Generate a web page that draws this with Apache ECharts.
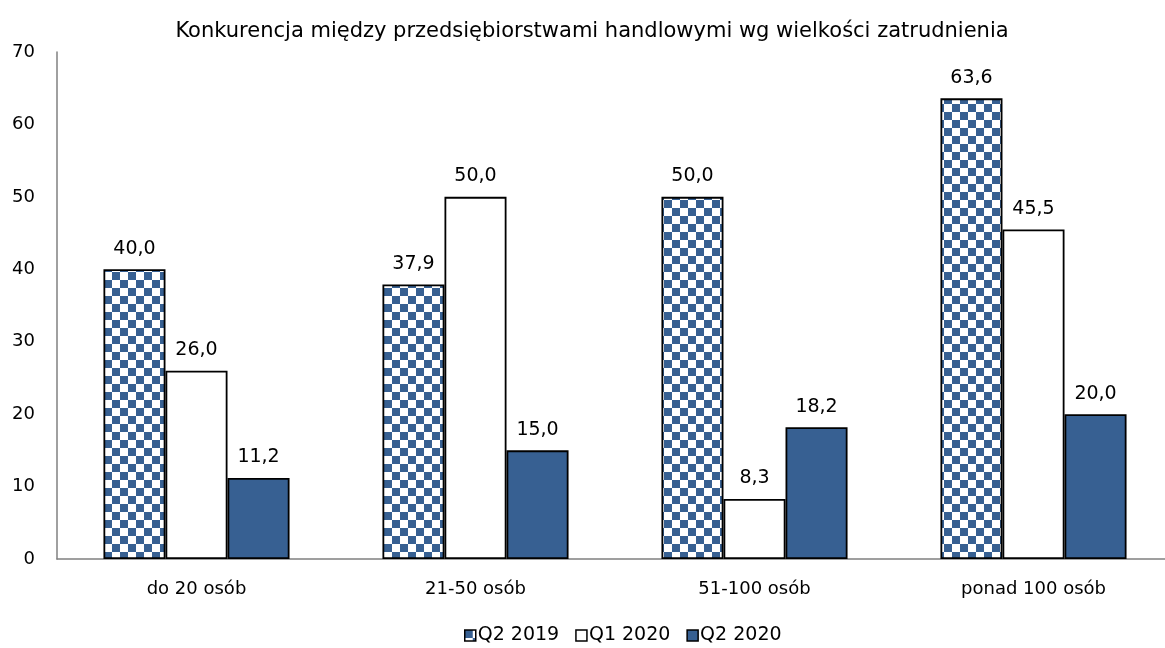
<!DOCTYPE html>
<html>
<head>
<meta charset="utf-8">
<script src="https://cdn.jsdelivr.net/npm/echarts@6/dist/echarts.min.js"></script>
<style>
html,body{margin:0;padding:0;background:#fff;}
#chart{width:1165px;height:648px;}
</style>
</head>
<body>
<div id="chart"></div>
<script>
var categories = ['do 20 osób', '21-50 osób', '51-100 osób', 'ponad 100 osób'];
var seriesNames = ['Q2 2019', 'Q1 2020', 'Q2 2020'];
var q2_2019 = [40.0, 37.9, 50.0, 63.6];
var q1_2020 = [26.0, 50.0, 8.3, 45.5];
var q2_2020 = [11.2, 15.0, 18.2, 20.0];

var blue = '#376092';
var font = 'Tahoma, "DejaVu Sans", sans-serif';

// szachownica dla Q2 2019
function makeChecker(cell) {
    var c = document.createElement('canvas');
    c.width = cell * 2;
    c.height = cell * 2;
    var ctx = c.getContext('2d');
    ctx.fillStyle = '#fff';
    ctx.fillRect(0, 0, c.width, c.height);
    ctx.fillStyle = blue;
    ctx.fillRect(0, 0, cell, cell);
    ctx.fillRect(cell, cell, cell, cell);
    return c;
}
var checker = {image: makeChecker(8), repeat: 'repeat'};

function fmt(p) {
    return p.value.toFixed(1).replace('.', ',');
}

var labelOpt = {show: true, position: 'top', distance: 11, formatter: fmt, fontFamily: font, fontSize: 19, color: '#000'};

var myChart = echarts.init(document.getElementById('chart'));
var option = {
    animation: false,
    title: {
        text: 'Konkurencja między przedsiębiorstwami handlowymi wg wielkości zatrudnienia',
        left: 587,
        textAlign: 'center',
        top: 16,
        textStyle: {fontFamily: font, fontSize: 21, fontWeight: 'normal', color: '#000'}
    },
    legend: {
        bottom: -2,
        left: 459,
        icon: 'rect',
        itemWidth: 11,
        itemHeight: 11,
        itemGap: 16,
        textStyle: {fontFamily: font, fontSize: 19, color: '#000', padding: [0, 0, 0, -3]},
        data: [
            {name: seriesNames[0], itemStyle: {color: checker, borderColor: '#000', borderWidth: 1.5}},
            {name: seriesNames[1], itemStyle: {color: '#fff', borderColor: '#000', borderWidth: 1.5}},
            {name: seriesNames[2], itemStyle: {color: blue, borderColor: '#000', borderWidth: 1.5}}
        ]
    },
    grid: {left: 57, width: 1116, top: 52, bottom: 89, outerBoundsMode: 'none'},
    xAxis: {
        type: 'category',
        data: categories,
        axisLine: {lineStyle: {color: '#808080', width: 1.5}},
        axisTick: {show: false},
        axisLabel: {fontFamily: font, fontSize: 18, color: '#000', margin: 21}
    },
    yAxis: {
        type: 'value',
        min: 0,
        max: 70,
        interval: 10,
        axisLine: {show: true, lineStyle: {color: '#808080', width: 1.5}},
        axisTick: {show: false},
        splitLine: {show: false},
        axisLabel: {fontFamily: font, fontSize: 18, color: '#000', margin: 22}
    },
    series: [
        {
            name: seriesNames[0],
            type: 'bar',
            data: q2_2019,
            barGap: '0%',
            barCategoryGap: '33.3%',
            itemStyle: {color: checker, borderColor: '#000', borderWidth: 1.8},
            label: labelOpt
        },
        {
            name: seriesNames[1],
            type: 'bar',
            data: q1_2020,
            itemStyle: {color: '#fff', borderColor: '#000', borderWidth: 1.8},
            label: labelOpt
        },
        {
            name: seriesNames[2],
            type: 'bar',
            data: q2_2020,
            itemStyle: {color: blue, borderColor: '#000', borderWidth: 1.8},
            label: labelOpt
        }
    ]
};
myChart.setOption(option, true);
</script>
</body>
</html>
